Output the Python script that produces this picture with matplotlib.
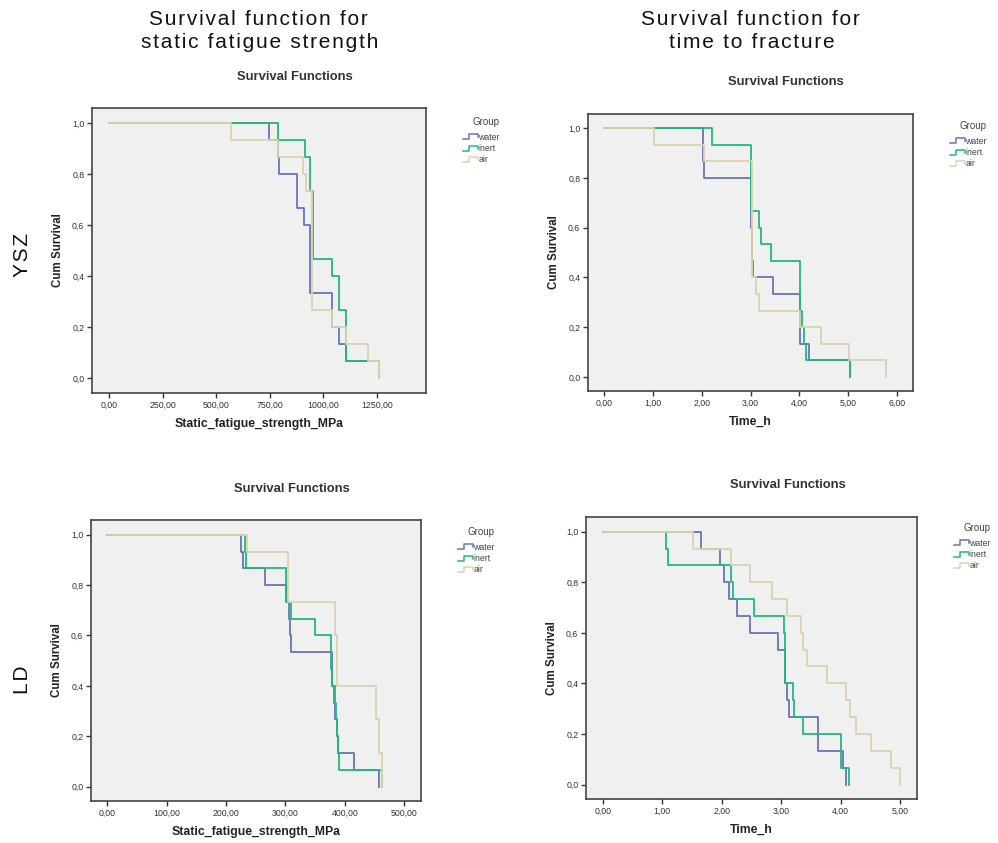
import numpy as np
import matplotlib.pyplot as plt
from matplotlib.lines import Line2D

# Kaplan-Meier steps (event time, survival after it)
# YSZ - static fatigue strength (MPa)
ysz_s_water_t = [748, 788, 791, 878, 908, 938, 1039, 1072, 1106, 1260]
ysz_s_water_s = [0.933, 0.867, 0.8, 0.667, 0.6, 0.333, 0.2, 0.133, 0.067, 0.0]
ysz_s_inert_t = [788, 913, 938, 950, 1039, 1075, 1106, 1260]
ysz_s_inert_s = [0.933, 0.867, 0.733, 0.467, 0.4, 0.267, 0.067, 0.0]
ysz_s_air_t = [569, 788, 903, 918, 946, 1039, 1106, 1207, 1260]
ysz_s_air_s = [0.933, 0.867, 0.8, 0.733, 0.267, 0.2, 0.133, 0.067, 0.0]

# YSZ - time to fracture (h)
ysz_t_water_t = [2.02, 2.05, 3.02, 3.04, 3.06, 3.47, 4.01, 4.20, 5.03]
ysz_t_water_s = [0.867, 0.8, 0.6, 0.467, 0.4, 0.333, 0.133, 0.067, 0.0]
ysz_t_inert_t = [2.22, 3.02, 3.17, 3.21, 3.41, 4.01, 4.06, 4.09, 4.13, 5.03]
ysz_t_inert_s = [0.933, 0.667, 0.6, 0.533, 0.467, 0.267, 0.2, 0.133, 0.067, 0.0]
ysz_t_air_t = [1.02, 2.05, 3.03, 3.12, 3.17, 4.02, 4.45, 5.02, 5.77]
ysz_t_air_s = [0.933, 0.867, 0.4, 0.333, 0.267, 0.2, 0.133, 0.067, 0.0]

# LD - static fatigue strength (MPa)
ld_s_water_t = [225, 229, 266, 300.6, 306, 307, 309, 377.5, 379, 381, 383, 386, 388, 416, 458]
ld_s_water_s = [0.933, 0.867, 0.8, 0.733, 0.667, 0.6, 0.533, 0.467, 0.4, 0.333, 0.267, 0.2, 0.133, 0.067, 0.0]
ld_s_inert_t = [231.5, 233, 301.7, 303, 310, 350, 376, 379, 383, 385, 387, 388.5, 389.5, 462]
ld_s_inert_s = [0.933, 0.867, 0.8, 0.733, 0.667, 0.6, 0.467, 0.4, 0.333, 0.267, 0.2, 0.133, 0.067, 0.0]
ld_s_air_t = [236, 305, 384, 386, 452, 458, 462]
ld_s_air_s = [0.933, 0.733, 0.6, 0.4, 0.267, 0.133, 0.0]

# LD - time to fracture (h)
ld_t_water_t = [1.66, 1.97, 2.03, 2.13, 2.25, 2.47, 2.95, 3.06, 3.10, 3.13, 3.62, 4.03, 4.08]
ld_t_water_s = [0.933, 0.867, 0.8, 0.733, 0.667, 0.6, 0.533, 0.4, 0.333, 0.267, 0.133, 0.067, 0.0]
ld_t_inert_t = [1.06, 1.09, 2.16, 2.19, 2.54, 3.05, 3.07, 3.20, 3.22, 3.37, 4.00, 4.14]
ld_t_inert_s = [0.933, 0.867, 0.8, 0.733, 0.667, 0.6, 0.4, 0.333, 0.267, 0.2, 0.067, 0.0]
ld_t_air_t = [1.52, 2.16, 2.47, 2.85, 3.09, 3.33, 3.37, 3.44, 3.76, 4.08, 4.16, 4.26, 4.51, 4.84, 5.00]
ld_t_air_s = [0.933, 0.867, 0.8, 0.733, 0.667, 0.6, 0.533, 0.467, 0.4, 0.333, 0.267, 0.2, 0.133, 0.067, 0.0]

groups = ["water", "inert", "air"]
colors = {"water": "#6675b6", "inert": "#23b77e", "air": "#d9d4ab"}

col_titles = [("Survival function for", "static fatigue strength"),
              ("Survival function for", "time to fracture")]
row_titles = ["YSZ", "LD"]

W, H = 998, 843
fig = plt.figure(figsize=(W / 100, H / 100), dpi=100)
plt.rcParams['font.family'] = ['Liberation Sans', 'DejaVu Sans']


def fx(px):
    return px / W


def fy(py):
    return 1 - py / H


def comma(v, nd):
    return f"{v:.{nd}f}".replace(".", ",")


def spaced(s):
    # the headers in the picture are letter-spaced: put a hair space between letters
    return "\u200a".join(s)


def panel(box, data, xlim, xticks, xlabel, title_xy, legend_xy):
    l, t, r, b = box
    ax = fig.add_axes([fx(l), fy(b), fx(r) - fx(l), fy(t) - fy(b)])
    ax.set_facecolor("#f0f0f0")
    for g in groups:
        tt, ss = data[g]
        ax.step([0] + tt, [1.0] + ss, where="post", color=colors[g], lw=1.3)
    ax.set_xlim(*xlim)
    ax.set_ylim(-0.057, 1.058)
    ax.set_xticks(xticks)
    ax.set_xticklabels([comma(v, 2) for v in xticks])
    yt = [0, 0.2, 0.4, 0.6, 0.8, 1.0]
    ax.set_yticks(yt)
    ax.set_yticklabels([comma(v, 1) for v in yt])
    ax.tick_params(direction="out", length=3.5, width=1, labelsize=6.3, colors="#333333", pad=2)
    for s in ax.spines.values():
        s.set_color("#444444")
        s.set_linewidth(1.2)
    ax.set_xlabel(xlabel, fontsize=8.8, fontweight="bold", color="#222222", labelpad=6)
    ax.set_ylabel("Cum Survival", fontsize=8.3, fontweight="bold", color="#222222", labelpad=6)
    fig.text(fx(title_xy[0]), fy(title_xy[1]), "Survival Functions", fontsize=9.4,
             fontweight="bold", color="#333333", ha="center", va="center")
    # legend drawn by hand with the SPSS step symbol
    gx, gy = legend_xy
    fig.text(fx(gx + 11), fy(gy), "Group", fontsize=7, color="#444444", ha="center", va="center")
    for i, g in enumerate(groups):
        yy = gy + 15 + i * 11.5
        sx = [gx - 12, gx - 6, gx - 6, gx + 3, gx + 3]
        sy = [yy + 2, yy + 2, yy - 3, yy - 3, yy]
        fig.add_artist(Line2D([fx(v) for v in sx], [fy(v) for v in sy], color=colors[g], lw=1.1))
        fig.text(fx(gx + 3.5), fy(yy), g, fontsize=6.3, color="#444444", ha="left", va="center")
    return ax


panel((92, 108, 426, 393),
      {"water": (ysz_s_water_t, ysz_s_water_s), "inert": (ysz_s_inert_t, ysz_s_inert_s),
       "air": (ysz_s_air_t, ysz_s_air_s)},
      (-81, 1480), [0, 250, 500, 750, 1000, 1250], "Static_fatigue_strength_MPa",
      (295, 77), (475, 122))
panel((588, 114, 913, 391),
      {"water": (ysz_t_water_t, ysz_t_water_s), "inert": (ysz_t_inert_t, ysz_t_inert_s),
       "air": (ysz_t_air_t, ysz_t_air_s)},
      (-0.33, 6.33), [0, 1, 2, 3, 4, 5, 6], "Time_h",
      (786, 82), (962, 126))
panel((91, 520, 421, 801),
      {"water": (ld_s_water_t, ld_s_water_s), "inert": (ld_s_inert_t, ld_s_inert_s),
       "air": (ld_s_air_t, ld_s_air_s)},
      (-27, 528), [0, 100, 200, 300, 400, 500], "Static_fatigue_strength_MPa",
      (292, 489), (470, 532))
panel((586, 517, 917, 799),
      {"water": (ld_t_water_t, ld_t_water_s), "inert": (ld_t_inert_t, ld_t_inert_s),
       "air": (ld_t_air_t, ld_t_air_s)},
      (-0.28, 5.28), [0, 1, 2, 3, 4, 5], "Time_h",
      (788, 485), (966, 528))

# column headers and row labels
for cx, (line1, line2) in zip([258, 750], col_titles):
    fig.text(fx(cx), fy(25), spaced(line1), fontsize=15, color="#111111",
             ha="center", va="baseline")
    fig.text(fx(cx + 2), fy(48), spaced(line2), fontsize=15, color="#111111",
             ha="center", va="baseline")
for cy, txt in zip([255, 680], row_titles):
    fig.text(fx(22), fy(cy), spaced(txt), fontsize=15, color="#111111",
             ha="center", va="center", rotation=90)

fig.savefig("out.png", dpi=100)
